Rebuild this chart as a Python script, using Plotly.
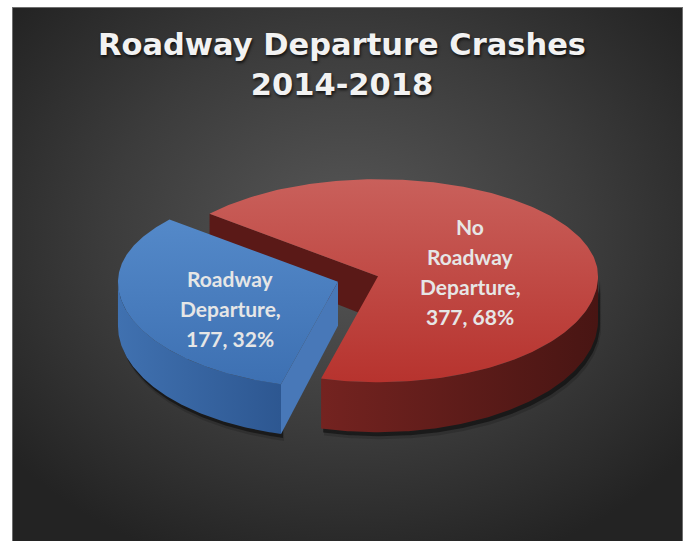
import base64
import numpy as np
import plotly.graph_objects as go

# ---------------- data ----------------
labels = ["Roadway Departure", "No Roadway Departure"]
label_lines = [["Roadway", "Departure,"], ["No", "Roadway", "Departure,"]]
values = [177, 377]
title_lines = ["Roadway Departure Crashes", "2014-2018"]

# ---------------- style ----------------
top_scales = [
    [[0, "#5489c9"], [1, "#3d70b2"]],
    [[0, "#c9605b"], [1, "#b7332e"]],
]
side_scales = [
    [[0, "#4071b0"], [1, "#2d5791"]],
    [[0, "#742320"], [1, "#481513"]],
]
face_colors = ["#4878b8", "#5a1917"]

W, H = 685, 541
cx0, cy0 = 358, 279              # pie centre (px)
a, b_back, b_front = 220, 97, 106  # ellipse semi-axes (px), mild perspective
explode = 21                     # px
start_angle = 195                # first slice start, deg clockwise from 12 o'clock

total = sum(values)
pcts = [round(100 * v / total) for v in values]


def depth(th):
    return 44 - 6 * np.cos(np.radians(th))


def pt(cx, cy, th):
    r = np.radians(th)
    c = np.cos(r)
    b = np.where(c > 0, b_back, b_front)
    return cx + a * np.sin(r), cy - b * c


slices = []
ang = start_angle
for i, v in enumerate(values):
    span = 360 * v / total
    t0, t1 = ang, ang + span
    mid = np.radians((t0 + t1) / 2)
    cx = cx0 + explode * np.sin(mid)
    cy = cy0 - explode * np.cos(mid) * b_back / a
    slices.append(dict(t0=t0, t1=t1, cx=cx, cy=cy))
    ang = t1

fig = go.Figure()


def add_poly(xs, ys, **kw):
    fig.add_trace(go.Scatter(x=xs, y=ys, mode="lines", fill="toself",
                             line=dict(width=0), hoverinfo="skip",
                             showlegend=False, **kw))


def side_polys(i):
    s = slices[i]
    out = []
    for k in range(-1, 3):
        lo, hi = 90 + 360 * k, 270 + 360 * k
        u0, u1 = max(lo, s["t0"]), min(hi, s["t1"])
        if u1 <= u0:
            continue
        th = np.linspace(u0, u1, 120)
        xt, yt = pt(s["cx"], s["cy"], th)
        out.append((np.concatenate([xt, xt[::-1]]),
                    np.concatenate([yt, (yt + depth(th))[::-1]])))
    return out


def draw_shadow(i):
    for xs, ys in side_polys(i):
        add_poly(xs + 2, ys + 4, fillcolor="rgba(0,0,0,0.45)")
        add_poly(xs + 3, ys + 7, fillcolor="rgba(0,0,0,0.15)")


def draw_side(i):
    for xs, ys in side_polys(i):
        add_poly(xs, ys, fillgradient=dict(type="horizontal", colorscale=side_scales[i],
                                           start=float(xs.min()), stop=float(xs.max())))


def draw_face(i, th):
    s = slices[i]
    ox, oy = pt(s["cx"], s["cy"], th)
    d = depth(th)
    xs = [s["cx"], ox, ox, s["cx"], s["cx"]]
    ys = [s["cy"], oy, oy + d, s["cy"] + 44, s["cy"]]
    add_poly(xs, ys, fillcolor=face_colors[i])


def draw_top(i):
    s = slices[i]
    th = np.linspace(s["t0"], s["t1"], 240)
    xt, yt = pt(s["cx"], s["cy"], th)
    xs = np.concatenate([[s["cx"]], xt, [s["cx"]]])
    ys = np.concatenate([[s["cy"]], yt, [s["cy"]]])
    add_poly(xs, ys, fillgradient=dict(type="vertical", colorscale=top_scales[i],
                                       start=float(ys.min()), stop=float(ys.max())))


draw_shadow(0)
draw_shadow(1)
draw_face(1, slices[1]["t0"])
draw_side(0)
draw_face(0, slices[0]["t0"])
draw_top(0)
draw_side(1)
draw_top(1)

# slice labels, one annotation per line
label_centre = [(230, 308), (470, 271)]
line_gap = 30
for i in range(len(values)):
    lines = label_lines[i] + [f"{values[i]}, {pcts[i]}%"]
    n = len(lines)
    for j, ln in enumerate(lines):
        y = label_centre[i][1] + (j - (n - 1) / 2) * line_gap
        fig.add_annotation(x=label_centre[i][0], y=y, text=ln, showarrow=False,
                           xref="x", yref="y", yanchor="middle",
                           font=dict(family="Lato", size=21, color="#e6e6e6", weight="bold"))

# title
fig.add_annotation(x=342, y=64, text="<br>".join(title_lines), showarrow=False,
                   xref="x", yref="y", yanchor="middle", align="center",
                   font=dict(family="DejaVu Sans", size=30.5, color="#f2f2f2", weight="bold",
                             shadow="1px 2px 3px rgba(0,0,0,0.7)"))

# background (dark radial gradient panel)
svg = f'''<svg xmlns="http://www.w3.org/2000/svg" width="{W}" height="{H}" viewBox="0 0 {W} {H}">
<defs><radialGradient id="g" cx="50%" cy="42%" r="65%">
<stop offset="0" stop-color="#575757"/><stop offset="0.55" stop-color="#3c3c3c"/>
<stop offset="1" stop-color="#232323"/></radialGradient></defs>
<rect x="0" y="0" width="{W}" height="{H}" fill="#ffffff"/>
<rect x="12.5" y="7.5" width="670" height="540" fill="url(#g)" stroke="#6e6e6e" stroke-width="1"/>
</svg>'''
src = "data:image/svg+xml;base64," + base64.b64encode(svg.encode()).decode()

fig.update_layout(
    width=W, height=H, margin=dict(l=0, r=0, t=0, b=0),
    paper_bgcolor="#ffffff", plot_bgcolor="rgba(0,0,0,0)",
    xaxis=dict(range=[0, W], visible=False, fixedrange=True),
    yaxis=dict(range=[H, 0], visible=False, fixedrange=True),
    images=[dict(source=src, xref="paper", yref="paper", x=0, y=1, sizex=1, sizey=1,
                 xanchor="left", yanchor="top", sizing="stretch", layer="below")],
    showlegend=False,
)

fig.write_html("out.html", config={"displayModeBar": False},
               post_script="document.body.style.margin='0';document.body.style.overflow='hidden';")
